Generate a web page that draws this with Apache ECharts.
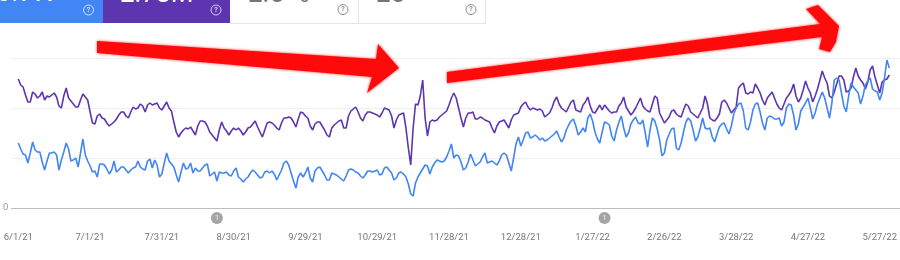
<!DOCTYPE html>
<html>
<head>
<meta charset="utf-8">
<script src="https://cdn.jsdelivr.net/npm/echarts@6/dist/echarts.min.js"></script>
<style>
html,body{margin:0;padding:0;background:#fff;}
#c{width:900px;height:260px;}
</style>
</head>
<body>
<div id="c"></div>
<script>
// ---- data ----
var startDate = [2021, 6, 1];
var dayCount = 365;
var tickLabels = ['6/1/21','7/1/21','7/31/21','8/30/21','9/29/21','10/29/21','11/28/21','12/28/21','1/27/22','2/26/22','3/28/22','4/27/22','5/27/22'];
var impressions = [129,123,121,113,106,106,116,114,110,112,116,108,112,111,113,115,111,102,100,112,120,110,107,104,101,101,108,114,111,108,96,85,84,92,94,90,89,85,82,84,86,89,93,96,96,92,90,96,101,99,100,104,102,96,103,105,103,104,105,100,98,102,106,100,97,86,76,71,75,78,80,79,81,77,73,82,87,87,86,82,76,73,70,67,78,86,80,77,73,77,80,78,80,77,73,76,80,81,84,87,81,76,71,78,85,86,85,83,80,78,85,90,90,91,90,86,81,89,96,95,92,90,82,78,84,86,86,82,78,73,71,80,83,85,87,88,80,80,92,97,99,101,96,90,87,93,96,96,95,94,93,91,95,100,99,98,92,80,88,93,94,95,80,60,43,80,104,103,112,128,90,72,86,88,87,88,91,93,95,97,103,110,115,110,100,90,81,90,95,95,96,89,89,91,90,88,87,86,80,75,82,86,87,88,84,80,88,93,94,95,101,104,106,101,98,100,99,98,99,97,91,93,95,100,107,111,104,100,98,96,101,106,108,98,97,96,103,106,111,102,96,95,99,103,98,103,100,97,95,96,96,102,105,111,101,97,93,96,100,105,110,102,99,97,96,104,112,110,95,90,85,88,91,97,98,94,92,91,98,104,102,96,94,92,90,95,100,112,104,90,88,87,90,94,106,108,105,100,95,98,101,120,123,125,115,114,116,115,124,120,115,108,103,110,113,116,110,104,100,98,104,110,113,117,124,112,106,110,118,127,120,115,106,112,119,128,137,130,125,112,110,116,124,132,132,128,116,117,120,131,140,132,128,125,119,126,138,142,131,123,115,126,128,129,133];
var clicks = [65,59,54,53,45,55,66,58,56,56,46,38,47,55,55,56,53,38,48,56,65,59,47,48,50,41,55,69,53,47,42,36,37,31,44,44,43,39,34,38,47,36,38,41,41,38,35,38,40,41,47,41,39,38,47,49,40,48,43,31,34,45,55,47,44,41,33,26,36,45,39,40,45,35,40,37,37,40,43,44,32,34,36,27,36,35,35,36,33,32,37,40,31,29,26,29,31,35,38,36,33,30,31,36,37,35,37,34,28,33,38,45,47,43,35,27,20,31,35,31,35,41,30,26,37,40,41,37,33,28,28,35,34,33,31,29,27,32,38,39,38,36,35,32,30,33,37,37,36,37,38,33,34,40,41,38,35,28,30,35,36,34,31,24,14,12,25,31,35,39,43,42,34,41,45,48,47,46,47,51,57,64,50,53,52,46,38,40,46,54,48,42,44,46,51,55,45,46,47,45,43,47,53,55,53,45,37,50,64,71,62,68,75,76,70,71,73,71,68,70,67,68,70,72,74,77,71,66,70,78,83,87,89,82,73,76,80,76,90,94,87,76,69,65,76,86,85,83,72,67,78,86,92,80,71,75,84,88,91,85,84,88,75,61,78,90,87,79,68,52,55,68,74,79,80,60,58,65,76,86,90,87,78,67,71,80,90,80,79,80,71,66,74,81,84,85,79,74,82,94,100,104,105,97,80,78,86,98,104,105,96,85,78,90,92,91,89,89,90,82,86,100,104,103,93,78,84,97,101,105,110,100,89,95,104,110,116,110,100,90,105,128,130,128,115,102,96,112,125,121,118,115,104,112,123,127,130,119,117,116,108,115,130,148,140];
var annotationDays = [83, 245];
var annotationLabels = ['1', '1'];
var yTicks = [0, 50, 100, 150];

// ---- categories ----
var dates = [];
(function () {
  var d = new Date(startDate[0], startDate[1] - 1, startDate[2]);
  for (var i = 0; i < dayCount; i++) {
    dates.push((d.getMonth() + 1) + '/' + d.getDate() + '/' + String(d.getFullYear()).slice(2));
    d.setDate(d.getDate() + 1);
  }
})();

var annData = annotationDays.map(function (d, i) { return { value: [d, -10], label: { formatter: annotationLabels[i] } }; });

var chart = echarts.init(document.getElementById('c'), null, { renderer: 'canvas' });
var FONT = 'Roboto, "Noto Sans", sans-serif';

function helpIcon(cx, cy, color) {
  return [
    { type: 'circle', shape: { cx: cx, cy: cy, r: 5 }, style: { fill: 'none', stroke: color, lineWidth: 1 }, z: 20 },
    { type: 'text', x: cx, y: cy, style: { text: '?', fill: color, font: 'bold 7px ' + FONT, align: 'center', verticalAlign: 'middle' }, z: 20 }
  ];
}

var graphics = [
  { type: 'rect', shape: { x: 0, y: 0, width: 103, height: 23 }, style: { fill: '#4285f4' }, z: 10 },
  { type: 'rect', shape: { x: 103, y: 0, width: 127, height: 23 }, style: { fill: '#5e35b1' }, z: 10 },
  { type: 'line', shape: { x1: 230, y1: 23.5, x2: 486, y2: 23.5 }, style: { stroke: '#e3e3e3', lineWidth: 1 }, z: 10 },
  { type: 'line', shape: { x1: 358.5, y1: 0, x2: 358.5, y2: 23 }, style: { stroke: '#e3e3e3', lineWidth: 1 }, z: 10 },
  { type: 'line', shape: { x1: 485.5, y1: 0, x2: 485.5, y2: 24 }, style: { stroke: '#e3e3e3', lineWidth: 1 }, z: 10 },
  { type: 'text', x: 52, y: -6, style: { text: '36.7K', fill: '#ffffff', font: '28px ' + FONT, align: 'right', verticalAlign: 'middle' }, z: 15 },
  { type: 'text', x: 120, y: -5, style: { text: '2.78M', fill: '#ffffff', font: '26px ' + FONT, align: 'left', verticalAlign: 'middle' }, z: 15 },
  { type: 'text', x: 248, y: -5, style: { text: '2.5 %', fill: '#757575', font: '26px ' + FONT, align: 'left', verticalAlign: 'middle' }, z: 15 },
  { type: 'text', x: 376, y: -5, style: { text: '25', fill: '#757575', font: '26px ' + FONT, align: 'left', verticalAlign: 'middle' }, z: 15 },
  // red hand-drawn arrows
  { type: 'polygon', shape: { points: [[97, 41], [376, 59], [378, 44], [399, 68], [367, 93], [372, 77], [97, 53]] },
    style: { fill: '#ff0a0a', shadowBlur: 3, shadowColor: 'rgba(255,0,0,0.8)' }, z: 30 },
  { type: 'polygon', shape: { points: [[447, 72], [820, 24], [806, 9], [818, 5], [839, 26], [836, 42], [830, 52], [819, 49], [822, 37], [447, 83]] },
    style: { fill: '#ff0a0a', shadowBlur: 3, shadowColor: 'rgba(255,0,0,0.8)' }, z: 30 }
].concat(helpIcon(88.5, 10, 'rgba(255,255,255,0.75)'))
 .concat(helpIcon(216, 10, 'rgba(255,255,255,0.75)'))
 .concat(helpIcon(343, 9.5, '#8a8a8a'))
 .concat(helpIcon(471, 9.5, '#8a8a8a'));

chart.setOption({
  animation: false,
  backgroundColor: '#ffffff',
  grid: [
    { left: 10, right: 0, top: 58, bottom: 52 },
    { left: 18.3, right: 8.1, top: 58, bottom: 52 }
  ],
  xAxis: [
    { gridIndex: 0, type: 'value', min: 0, max: 1, axisLine: { show: true, lineStyle: { color: '#bdbdbd', width: 1 } },
      axisTick: { show: false }, axisLabel: { show: false }, splitLine: { show: false } },
    { gridIndex: 1, type: 'category', data: dates, boundaryGap: false,
      axisLine: { show: false }, axisTick: { show: false }, splitLine: { show: false },
      axisLabel: {
        interval: function (i, v) { return tickLabels.indexOf(v) >= 0; },
        margin: 25, color: '#777777', fontSize: 9.5, fontFamily: FONT
      } }
  ],
  yAxis: [
    { gridIndex: 0, type: 'value', min: yTicks[0], max: yTicks[yTicks.length - 1], interval: yTicks[1] - yTicks[0],
      axisLine: { show: false }, axisTick: { show: false },
      splitLine: { lineStyle: { color: '#efefef', width: 1 } },
      axisLabel: { formatter: function (v) { return v === 0 ? '0' : ''; }, color: '#9a9a9a', fontSize: 9.5, fontFamily: FONT, margin: 3 } },
    { gridIndex: 1, type: 'value', min: yTicks[0], max: yTicks[yTicks.length - 1], show: false }
  ],
  series: [
    { name: 'Impressions', type: 'line', xAxisIndex: 1, yAxisIndex: 1, data: impressions, showSymbol: false,
      lineStyle: { color: '#5e35b1', width: 1.6 }, itemStyle: { color: '#5e35b1' }, z: 3 },
    { name: 'Clicks', type: 'line', xAxisIndex: 1, yAxisIndex: 1, data: clicks, showSymbol: false,
      lineStyle: { color: '#4285f4', width: 1.6 }, itemStyle: { color: '#4285f4' }, z: 4 },
    { name: 'Annotations', type: 'scatter', xAxisIndex: 1, yAxisIndex: 1, data: annData, clip: false,
      symbol: 'circle', symbolSize: 12, itemStyle: { color: '#8f8f8f' },
      label: { show: true, position: 'inside', color: '#ffffff', fontSize: 8, fontFamily: FONT }, z: 5 }
  ],
  graphic: graphics
});
</script>
</body>
</html>
